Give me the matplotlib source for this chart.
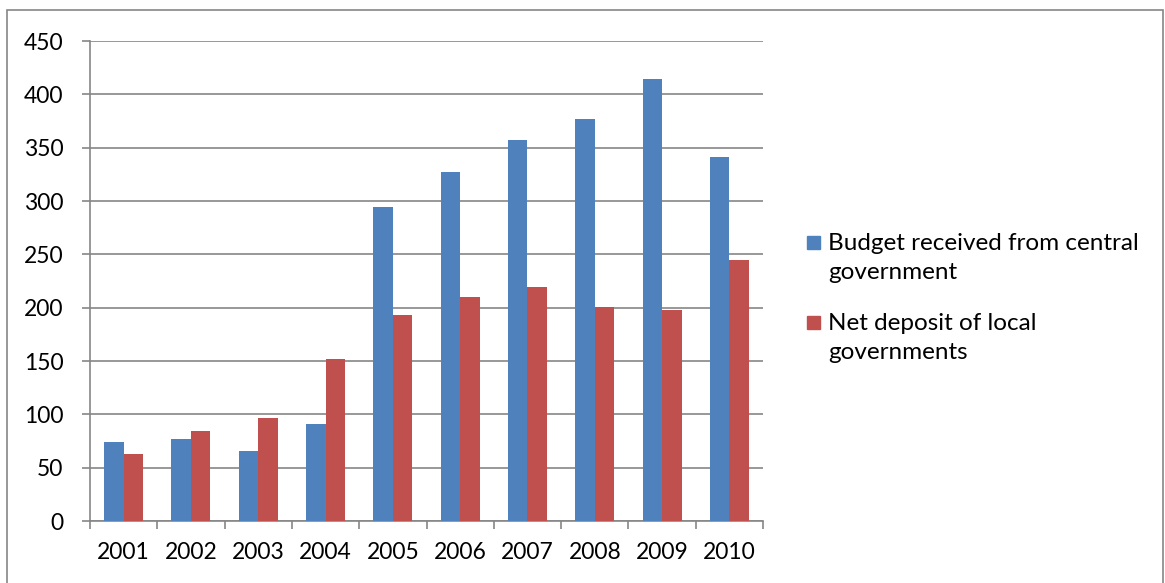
import matplotlib
matplotlib.use("Agg")
import matplotlib.pyplot as plt
from matplotlib.patches import Rectangle
import numpy as np

years = ["2001", "2002", "2003", "2004", "2005", "2006", "2007", "2008", "2009", "2010"]
budget_central = [74, 77, 66, 91, 294, 327, 357, 377, 414, 341]
net_deposit_local = [63, 84, 97, 152, 193, 210, 219, 201, 198, 245]
series_labels = ["Budget received from central\ngovernment",
                 "Net deposit of local\ngovernments"]
series_colors = ["#4F81BD", "#C0504D"]
y_ticks = [0, 50, 100, 150, 200, 250, 300, 350, 400, 450]

plt.rcParams["font.family"] = ["Lato", "DejaVu Sans"]

W, H = 1165, 583
fig = plt.figure(figsize=(W / 100, H / 100), dpi=100)
ax = fig.add_axes([90 / W, 1 - 521 / H, (763 - 90) / W, (521 - 41) / H])

x = np.arange(len(years))
bw = 0.29
ax.bar(x - bw / 2, budget_central, bw, color=series_colors[0], zorder=3)
ax.bar(x + bw / 2, net_deposit_local, bw, color=series_colors[1], zorder=3)

ax.set_xlim(-0.5, len(years) - 0.5)
ax.set_ylim(0, 450)
ax.set_yticks(y_ticks)
ax.set_yticklabels([str(v) for v in y_ticks])
ax.set_xticks(x)
ax.set_xticklabels(years)
ax.set_xticks(np.arange(len(years) + 1) - 0.5, minor=True)

grid_c = "#868686"
ax.yaxis.grid(True, color=grid_c, linewidth=1.2, zorder=0)
ax.set_axisbelow(True)
for s in ["top", "right"]:
    ax.spines[s].set_visible(False)
for s in ["left", "bottom"]:
    ax.spines[s].set_color(grid_c)
    ax.spines[s].set_linewidth(1.2)

tick_fs = 16.5
ax.tick_params(axis="y", length=6, width=1.2, color=grid_c, pad=13,
               labelsize=tick_fs, labelcolor="black")
ax.tick_params(axis="x", which="major", length=0, pad=15,
               labelsize=tick_fs, labelcolor="black")
ax.tick_params(axis="x", which="minor", length=6, width=1.2, color=grid_c)

# legend drawn as squares with wrapped text
legend_rows = [(243, series_labels[0], series_colors[0]),
               (323, series_labels[1], series_colors[1])]
for ytop, label, col in legend_rows:
    fig.patches.append(Rectangle((807 / W, 1 - (ytop + 6) / H), 13 / W, 13 / H,
                                 transform=fig.transFigure, color=col))
    fig.text(828 / W, 1 - (ytop - 10) / H, label, fontsize=17.5,
             va="top", ha="left", linespacing=1.45)

# outer frame
fig.patches.append(Rectangle((7 / W, -0.01), (1163 - 7) / W, 1 - 10 / H + 0.01,
                             transform=fig.transFigure, fill=False,
                             edgecolor=grid_c, linewidth=1.2))

fig.savefig("out.png", dpi=100)
